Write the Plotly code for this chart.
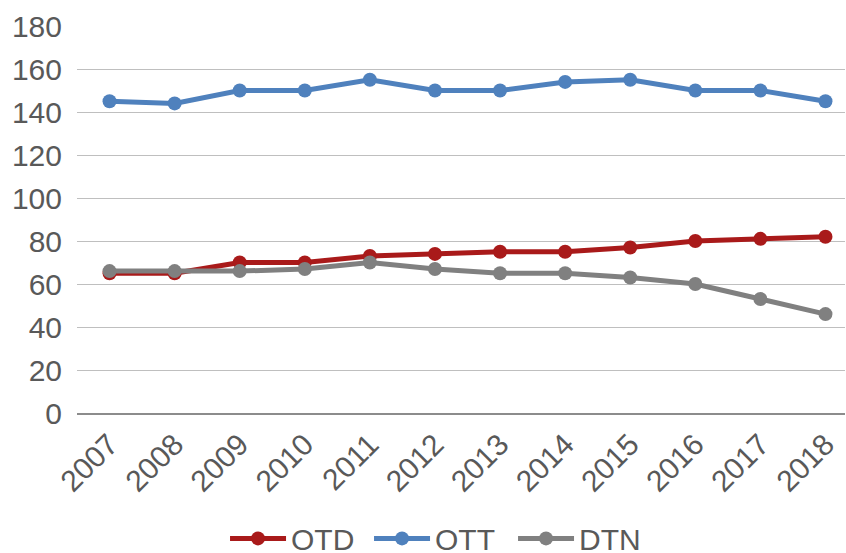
import plotly.graph_objects as go

years = ["2007", "2008", "2009", "2010", "2011", "2012", "2013", "2014", "2015", "2016", "2017", "2018"]
otd = [65, 65, 70, 70, 73, 74, 75, 75, 77, 80, 81, 82]
ott = [145, 144, 150, 150, 155, 150, 150, 154, 155, 150, 150, 145]
dtn = [66, 66, 66, 67, 70, 67, 65, 65, 63, 60, 53, 46]
y_ticks = [0, 20, 40, 60, 80, 100, 120, 140, 160, 180]

series = [("OTD", otd, "#A91A1A"), ("OTT", ott, "#4F81BD"), ("DTN", dtn, "#808080")]

fig = go.Figure()
for name, vals, col in series:
    fig.add_trace(go.Scatter(
        x=years, y=vals, name=name, mode="lines+markers",
        line=dict(color=col, width=5),
        marker=dict(color=col, size=14),
    ))

font = dict(family="Liberation Sans, Arial, Helvetica, sans-serif", size=30, color="#595959")

fig.update_layout(
    width=846, height=553,
    margin=dict(l=77, r=1, t=26, b=140, autoexpand=False),
    paper_bgcolor="white", plot_bgcolor="white",
    font=font,
    showlegend=True,
    legend=dict(orientation="h", x=0.474, xanchor="center", y=-0.324, yanchor="middle",
                font=font, itemwidth=56, tracegroupgap=0, entrywidth=73),
    xaxis=dict(type="category", range=[-0.5, 11.3], showgrid=False, tickangle=-45,
               showline=True, linecolor="#8C8C8C", linewidth=1.5, ticks="", tickfont=font,
               zeroline=False, automargin=False),
    yaxis=dict(range=[0, 180], tickvals=y_ticks, showgrid=True, gridcolor="#BFBFBF",
               gridwidth=1.2, zeroline=False, showline=False, ticks="", tickfont=font,
               ticklabelstandoff=14, automargin=False),
)

fig.write_html("out.html", config={"displayModeBar": False},
               post_script="document.body.style.margin='0';document.body.style.overflow='hidden';")
